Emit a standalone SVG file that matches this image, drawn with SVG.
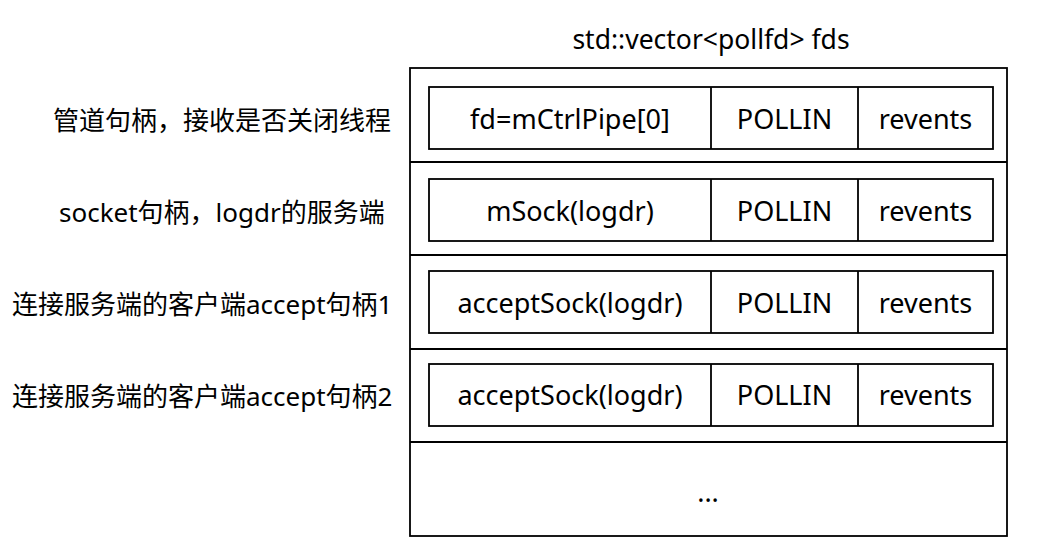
<svg xmlns="http://www.w3.org/2000/svg" width="1049" height="560" viewBox="0 0 1049 560">
<style>
.t{font-family:"Noto Sans","Noto Sans CJK SC",sans-serif;fill:#000}
.c{font-size:27px;text-anchor:middle;dominant-baseline:central}
.l{font-size:26px;dominant-baseline:central}
.box{fill:#fff;stroke:#000;stroke-width:1.8}
.ln{stroke:#000;stroke-width:1.8}
</style>
<rect width="1049" height="560" fill="#fff"/>
<text class="t c" x="711" y="39" style="font-size:26.5px">std::vector&lt;pollfd&gt; fds</text>
<g id="fds">
<rect class="box" x="410" y="68" width="597" height="468"/>
<line class="ln" x1="410" y1="162" x2="1007" y2="162"/>
<line class="ln" x1="410" y1="255" x2="1007" y2="255"/>
<line class="ln" x1="410" y1="349" x2="1007" y2="349"/>
<line class="ln" x1="410" y1="442" x2="1007" y2="442"/>
</g>
<g id="row1">
<rect class="box" x="429" y="87" width="564" height="62"/>
<line class="ln" x1="711" y1="87" x2="711" y2="149"/>
<line class="ln" x1="858" y1="87" x2="858" y2="149"/>
<text class="t c" x="570" y="118">fd=mCtrlPipe[0]</text>
<text class="t c" x="784.5" y="118">POLLIN</text>
<text class="t c" x="925.5" y="118">revents</text>
</g>
<g id="row2">
<rect class="box" x="429" y="179" width="564" height="62"/>
<line class="ln" x1="711" y1="179" x2="711" y2="241"/>
<line class="ln" x1="858" y1="179" x2="858" y2="241"/>
<text class="t c" x="570" y="210">mSock(logdr)</text>
<text class="t c" x="784.5" y="210">POLLIN</text>
<text class="t c" x="925.5" y="210">revents</text>
</g>
<g id="row3">
<rect class="box" x="429" y="271" width="564" height="62"/>
<line class="ln" x1="711" y1="271" x2="711" y2="333"/>
<line class="ln" x1="858" y1="271" x2="858" y2="333"/>
<text class="t c" x="570" y="302">acceptSock(logdr)</text>
<text class="t c" x="784.5" y="302">POLLIN</text>
<text class="t c" x="925.5" y="302">revents</text>
</g>
<g id="row4">
<rect class="box" x="429" y="364" width="564" height="62"/>
<line class="ln" x1="711" y1="364" x2="711" y2="426"/>
<line class="ln" x1="858" y1="364" x2="858" y2="426"/>
<text class="t c" x="570" y="394">acceptSock(logdr)</text>
<text class="t c" x="784.5" y="394">POLLIN</text>
<text class="t c" x="925.5" y="394">revents</text>
</g>
<g id="row5">
<text class="t c" x="708" y="491">...</text>
</g>
<g id="labels">
<text class="t l" x="53" y="120">管道句柄，接收是否关闭线程</text>
<text class="t l" x="59" y="212">socket句柄，logdr的服务端</text>
<text class="t l" x="12" y="304">连接服务端的客户端accept句柄1</text>
<text class="t l" x="12" y="396">连接服务端的客户端accept句柄2</text>
</g>
</svg>
